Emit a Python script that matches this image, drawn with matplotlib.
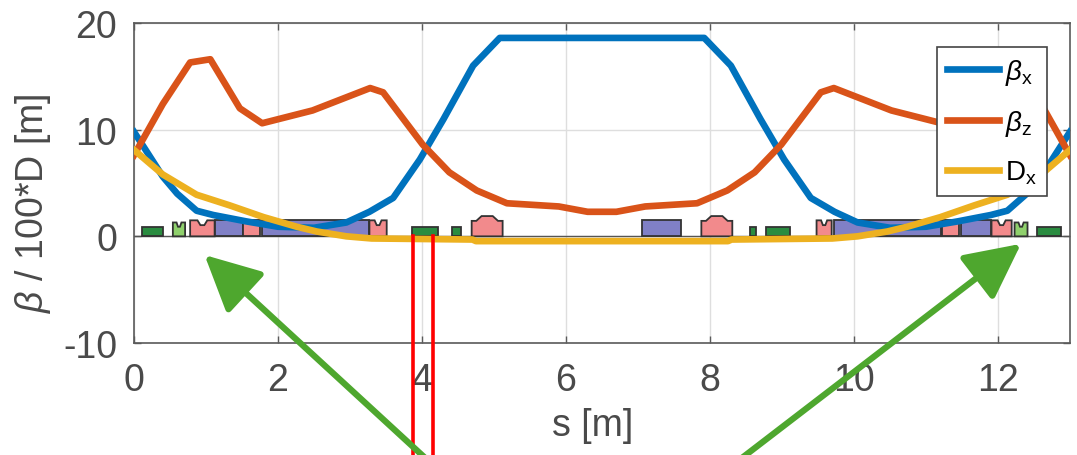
import matplotlib

matplotlib.use("Agg")
import matplotlib.pyplot as plt
from matplotlib.patches import Polygon

# optics functions
s_pts = [0.0, 0.4, 0.6, 0.87, 1.1, 1.56, 2.0, 2.5, 2.95, 3.27, 3.6, 3.97, 4.3, 4.71, 5.08,
         7.92, 8.29, 8.7, 9.03, 9.4, 9.73, 10.05, 10.5, 11.0, 11.44, 11.9, 12.13, 12.4, 12.6, 13.0]
beta_x = [9.8, 5.6, 4.0, 2.4, 2.0, 1.4, 0.9, 0.8, 1.3, 2.3, 3.6, 7.2, 11.0, 16.0, 18.6,
          18.6, 16.0, 11.0, 7.2, 3.6, 2.3, 1.3, 0.8, 0.9, 1.4, 2.0, 2.4, 4.0, 5.6, 9.8]

s_bz = [0.0, 0.4, 0.78, 1.06, 1.47, 1.78, 2.48, 3.28, 3.46, 4.01, 4.38, 4.76, 5.18, 5.9, 6.3,
        6.7, 7.1, 7.82, 8.24, 8.62, 8.99, 9.54, 9.72, 10.52, 11.22, 11.53, 11.94, 12.22, 12.6, 13.0]
beta_z = [7.6, 12.4, 16.3, 16.6, 12.0, 10.6, 11.8, 13.9, 13.5, 8.6, 6.0, 4.3, 3.1, 2.8, 2.3,
          2.3, 2.8, 3.1, 4.3, 6.0, 8.6, 13.5, 13.9, 11.8, 10.6, 12.0, 16.6, 16.3, 12.4, 7.6]

s_dx = [0.0, 0.4, 0.87, 1.33, 1.8, 2.26, 2.54, 2.95, 3.3, 4.7, 4.75, 8.25, 8.3, 9.7, 10.05,
        10.46, 10.74, 11.2, 11.67, 12.13, 12.6, 13.0]
disp_x = [8.1, 5.8, 3.9, 2.9, 1.8, 0.9, 0.45, 0.0, -0.2, -0.3, -0.45, -0.45, -0.3, -0.2, 0.0,
          0.45, 0.9, 1.8, 2.9, 3.9, 5.8, 8.1]

# magnet layout: start / end [m] and type
elem_start = [0.11, 0.54, 0.78, 1.12, 1.51, 1.78, 3.27, 3.86, 4.42, 4.69,
              7.05, 7.88, 8.56, 8.78, 9.48, 9.72, 11.22, 11.48, 11.91, 12.23, 12.54]
elem_end = [0.40, 0.71, 1.12, 1.51, 1.75, 3.27, 3.51, 4.22, 4.54, 5.12,
            7.60, 8.31, 8.64, 9.11, 9.69, 11.21, 11.46, 11.90, 12.19, 12.41, 12.88]
elem_kind = ["C", "S", "QD", "B", "Q", "B", "QD", "C", "C", "QF",
             "B", "QF", "C", "C", "QD", "B", "Q", "B", "QD", "S", "C"]

# red marker lines and green arrows (annotation overlay)
mark_s = [3.87, 4.15]
arrow_tip = [(0.98, -1.75), (12.32, -0.7)]
arrow_tail = [(4.08, -21.0), (8.4, -21.0)]

C_BX = "#0072BD"
C_BZ = "#D95319"
C_DX = "#EDB120"
TXT = "#4a4a4a"

plt.rcParams.update({
    "font.family": ["Liberation Sans", "DejaVu Sans"],
    "mathtext.fontset": "custom",
    "mathtext.rm": "Liberation Sans",
    "mathtext.it": "Liberation Sans:italic",
    "axes.unicode_minus": False,
    "axes.edgecolor": "#5a5a5a",
    "xtick.color": "#5a5a5a",
    "ytick.color": "#5a5a5a",
    "xtick.labelcolor": TXT,
    "ytick.labelcolor": TXT,
})


def magnet_shape(kind, a, b):
    w = b - a
    if kind == "B":
        return [(a, 0), (a, 1.5), (b, 1.5), (b, 0)], "#8080c6"
    if kind == "QF":
        return [(a, 0), (a, 1.45), (a + 0.15 * w, 1.45), (a + 0.32 * w, 1.9),
                (b - 0.32 * w, 1.9), (b - 0.15 * w, 1.45), (b, 1.45), (b, 0)], "#f28a8c"
    if kind == "QD":
        return [(a, 0), (a, 1.5), (a + 0.3 * w, 1.5), (a + 0.42 * w, 1.05),
                (b - 0.42 * w, 1.05), (b - 0.3 * w, 1.5), (b, 1.5), (b, 0)], "#f28a8c"
    if kind == "Q":
        return [(a, 0), (a, 1.5), (b, 1.5), (b, 0)], "#f28a8c"
    if kind == "S":
        return [(a, 0), (a, 1.3), (a + 0.3 * w, 1.3), (a + 0.42 * w, 0.9),
                (b - 0.42 * w, 0.9), (b - 0.3 * w, 1.3), (b, 1.3), (b, 0)], "#8fd06c"
    return [(a, 0), (a, 0.85), (b, 0.85), (b, 0)], "#2a8c40"


fig = plt.figure(figsize=(10.77, 4.56), dpi=100)
ax = fig.add_axes([0.1244, 0.2456, 0.8691, 0.7018])

ax.axhline(0, color="#555555", lw=1.0, zorder=1)
for a, b, k in zip(elem_start, elem_end, elem_kind):
    verts, col = magnet_shape(k, a, b)
    ax.add_patch(Polygon(verts, closed=True, facecolor=col, edgecolor="#333333",
                         lw=1.3, zorder=2))

ax.plot(s_pts, beta_x, color=C_BX, lw=4.8, label=r"$\beta_{\mathrm{x}}$", zorder=3)
ax.plot(s_bz, beta_z, color=C_BZ, lw=4.8, label=r"$\beta_{\mathrm{z}}$", zorder=3)
ax.plot(s_dx, disp_x, color=C_DX, lw=4.8, label=r"D$_{\mathrm{x}}$", zorder=3)

ax.set_xlim(0, 13)
ax.set_ylim(-10, 20)
ax.set_xticks([0, 2, 4, 6, 8, 10, 12])
ax.set_yticks([-10, 0, 10, 20])
ax.grid(True, color="#dedede", lw=1.0, zorder=0)
ax.set_axisbelow(True)
ax.tick_params(direction="in", length=5, width=1, labelsize=27, top=True, right=True)
ax.tick_params(axis="x", pad=14)
ax.tick_params(axis="y", pad=12)
for sp in ax.spines.values():
    sp.set_linewidth(1.2)

ax.set_xlabel("s [m]", fontsize=27, color=TXT)
ax.xaxis.set_label_coords(0.49, -0.2)
ax.set_ylabel(r"$\mathit{\beta}$ / 100*D [m]", fontsize=27, color=TXT)
ax.yaxis.set_label_coords(-0.086, 0.44)

leg = ax.legend(loc="upper right", bbox_to_anchor=(0.975, 0.925), borderaxespad=0,
                fontsize=20, handlelength=1.9, handletextpad=0.2, labelspacing=0.75,
                borderpad=0.35, fancybox=False, framealpha=1, edgecolor="#444444")
leg.get_frame().set_linewidth(1.2)
leg.set_zorder(5)

for xs in mark_s:
    ax.plot([xs, xs], [0.05, -22], color="#ff0000", lw=2.6, clip_on=False, zorder=6)

for tip, tail in zip(arrow_tip, arrow_tail):
    ax.annotate("", xy=tip, xytext=tail, annotation_clip=False,
                arrowprops=dict(arrowstyle="-|>,head_length=1.1,head_width=0.55",
                                color="#4ea72e", lw=4.5, mutation_scale=31,
                                shrinkA=0, shrinkB=0, clip_on=False),
                zorder=6)

fig.savefig("out.png", dpi=100)
